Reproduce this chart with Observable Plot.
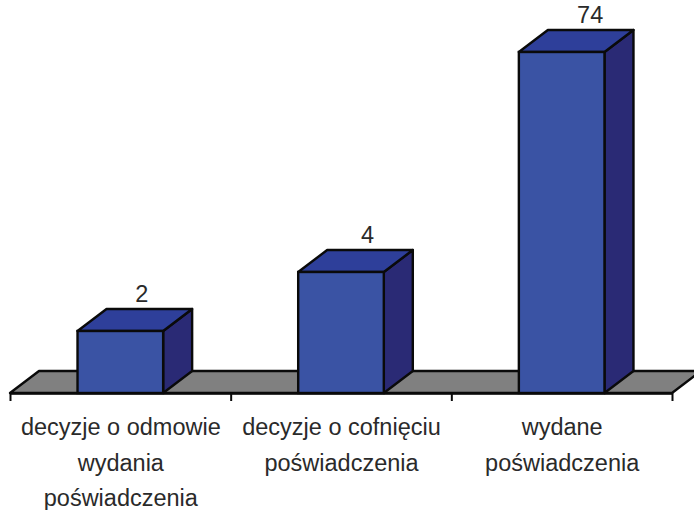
<!DOCTYPE html>
<html>
<head>
<meta charset="utf-8">
<script src="https://cdn.jsdelivr.net/npm/d3@7"></script>
<script src="https://cdn.jsdelivr.net/npm/@observablehq/plot@0.6"></script>
<style>
html,body{margin:0;padding:0;background:#fff}
svg{display:block}
</style>
</head>
<body>
<div id="chart"></div>
<script>
const categories = ["decyzje o odmowie\nwydania\npoświadczenia", "decyzje o cofnięciu\npoświadczenia", "wydane\npoświadczenia"];
const values = [2, 4, 74];
const tickPositions = [0, 1, 2, 3];

const bars = values.map((v, i) => ({label: categories[i], value: v, index: i}));
const barInset = 0.306;
const DX = 29, DY = 22;
const INK = "#0a0a0a";

function prism(index, {x, y}) {
  const g = d3.create("svg:g");
  const poly = (pts, fill) => g.append("polygon")
    .attr("points", pts.map(p => p.join(",")).join(" "))
    .attr("fill", fill).attr("stroke", INK).attr("stroke-width", 2.4).attr("stroke-linejoin", "round");
  // floor
  const fy = y(0);
  poly([[x(0), fy], [x(0) + DX, fy - DY], [x(3) + DX, fy - DY], [x(3), fy]], "#808080");
  for (const b of bars) {
    const x2 = x(b.index + 1 - barInset), x1 = x(b.index + barInset), y1 = y(b.value);
    poly([[x2, fy], [x2 + DX, fy - DY], [x2 + DX, y1 - DY], [x2, y1]], "#2a2a75");
    poly([[x1, y1], [x1 + DX, y1 - DY], [x2 + DX, y1 - DY], [x2, y1]], "#2e3f9a");
  }
  return g.node();
}

const labelShift = [21, 26, 28];

const chart = Plot.plot({
  width: 694,
  height: 510,
  marginTop: 0, marginRight: 22, marginBottom: 117, marginLeft: 10,
  style: {fontFamily: "'Liberation Sans', Arial, sans-serif", background: "#fff", overflow: "hidden"},
  x: {type: "linear", domain: [0, 3], range: [10, 672], axis: null},
  y: {type: "linear", domain: [0, 2, 4, 74], range: [393, 331, 272, 52], axis: null},
  marks: [
    prism,
    Plot.rect(bars, {
      x1: d => d.index + barInset,
      x2: d => d.index + 1 - barInset,
      y1: 0,
      y2: "value",
      fill: "#3a53a4",
      stroke: INK,
      strokeWidth: 2.4
    }),
    Plot.ruleY([0], {stroke: INK, strokeWidth: 2.4}),
    Plot.axisX({ticks: tickPositions, tickSize: 8, tickFormat: () => "", label: null, stroke: INK, strokeWidth: 2}),
    Plot.text(bars, {
      x: (d, i) => d.index + 0.5 + labelShift[i] / 220.67,
      y: "value",
      text: d => String(d.value),
      dy: -37,
      fontSize: 23.5,
      fill: "#2a2a2a"
    }),
    Plot.text(bars, {
      x: d => d.index + 0.5,
      y: 0,
      text: "label",
      dy: 16,
      lineAnchor: "top",
      lineHeight: 1.52,
      fontSize: 23.5,
      fill: "#2a2a2a"
    })
  ]
});
document.getElementById("chart").appendChild(chart);
</script>
</body>
</html>
